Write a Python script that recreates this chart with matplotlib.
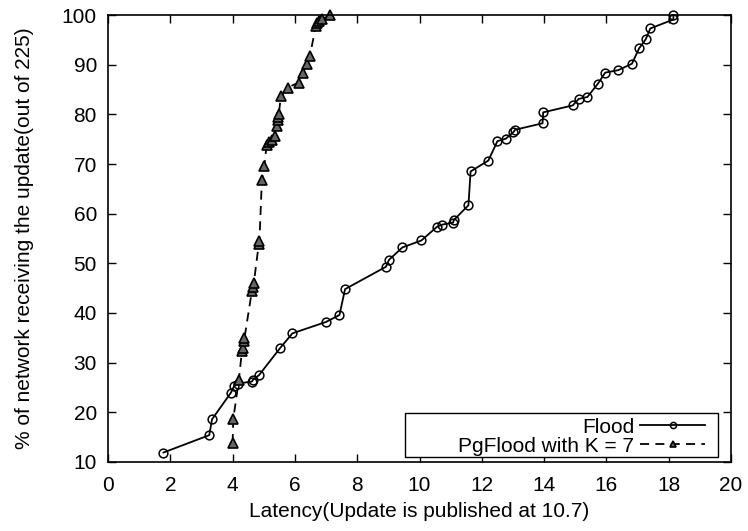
import matplotlib
matplotlib.use('Agg')
import matplotlib.pyplot as plt
from matplotlib.patches import Rectangle

# Flood: latency vs % of network reached
flood_x = [1.78, 3.25, 3.34, 3.94, 4.05, 4.18, 4.62, 4.66, 4.85, 5.52, 5.92, 7.0, 7.43, 7.61,
           8.92, 9.02, 9.45, 10.06, 10.55, 10.73, 11.08, 11.1, 11.57, 11.64, 12.21, 12.5, 12.77,
           13.01, 13.07, 13.95, 13.97, 14.92, 15.11, 15.39, 15.73, 15.96, 16.38, 16.82, 17.05,
           17.26, 17.41, 18.15, 18.15]
flood_y = [11.9, 15.4, 18.6, 23.9, 25.3, 25.8, 26.2, 26.6, 27.5, 32.9, 35.9, 38.2, 39.6, 44.8,
           49.3, 50.7, 53.2, 54.6, 57.3, 57.8, 58.2, 58.7, 61.7, 68.5, 70.7, 74.6, 75.1,
           76.4, 76.9, 78.2, 80.4, 81.8, 83.1, 83.5, 86.2, 88.4, 88.9, 90.2, 93.3,
           95.1, 97.3, 99.1, 100.0]

# PgFlood with K = 7
pg_x = [4.0, 4.02, 4.2, 4.3, 4.33, 4.36, 4.38, 4.62, 4.66, 4.68, 4.84, 4.86, 4.94, 5.02,
        5.09, 5.17, 5.26, 5.36, 5.42, 5.45, 5.47, 5.48, 5.55, 5.77, 6.12, 6.25, 6.38, 6.48,
        6.67, 6.72, 6.78, 6.88, 7.13]
pg_y = [13.8, 18.6, 26.5, 32.4, 33.0, 34.3, 34.9, 44.5, 45.3, 46.0, 53.9, 54.5, 66.8, 69.5,
        73.9, 74.4, 74.9, 75.6, 77.6, 78.8, 79.5, 80.0, 83.6, 85.4, 86.4, 88.3, 90.1, 91.7,
        97.8, 98.3, 98.8, 99.2, 100.0]

x_ticks = list(range(0, 21, 2))
y_ticks = list(range(10, 101, 10))

plt.rcParams['font.family'] = ['Liberation Sans', 'DejaVu Sans']
plt.rcParams['font.size'] = 15

fig = plt.figure(figsize=(7.48, 5.31), dpi=100)
ax = fig.add_axes([0.1444, 0.13, 0.8329, 0.8417])

ax.plot(flood_x, flood_y, color='black', linewidth=1.3, marker='o', markersize=6.3,
        markerfacecolor='none', markeredgecolor='black', markeredgewidth=1.1,
        label='Flood', clip_on=False)
ax.plot(pg_x, pg_y, color='black', linewidth=1.3, linestyle=(0, (5, 3.5)), marker='^',
        markersize=6.5, markerfacecolor='#666666', markeredgecolor='black', markeredgewidth=1.2,
        label='PgFlood with K = 7', clip_on=False)

ax.set_xlim(0, 20)
ax.set_ylim(10, 100)
ax.set_xticks(x_ticks)
ax.set_yticks(y_ticks)
ax.tick_params(direction='in', length=6, width=1, top=True, right=True)
ax.tick_params(axis='x', pad=10)
ax.tick_params(axis='y', pad=8)
for s in ax.spines.values():
    s.set_linewidth(1.2)

ax.set_xlabel('Latency(Update is published at 10.7)', labelpad=5)
ax.set_ylabel('% of network receiving the update(out of 225)', labelpad=20)

# gnuplot-style key: labels right-aligned, sample on the right, wide box
leg = ax.legend(loc='lower right', bbox_to_anchor=(0.958, 0.014), markerfirst=False,
                handlelength=3.1, markerscale=0.7, frameon=False, borderpad=0,
                labelspacing=0.0, handletextpad=0.3, borderaxespad=0)
ax.add_patch(Rectangle((0.477, 0.011), 0.502, 0.099, transform=ax.transAxes,
                       facecolor='white', edgecolor='black', linewidth=1.0, zorder=4))
leg.set_zorder(5)

fig.savefig('out.png', dpi=100)
